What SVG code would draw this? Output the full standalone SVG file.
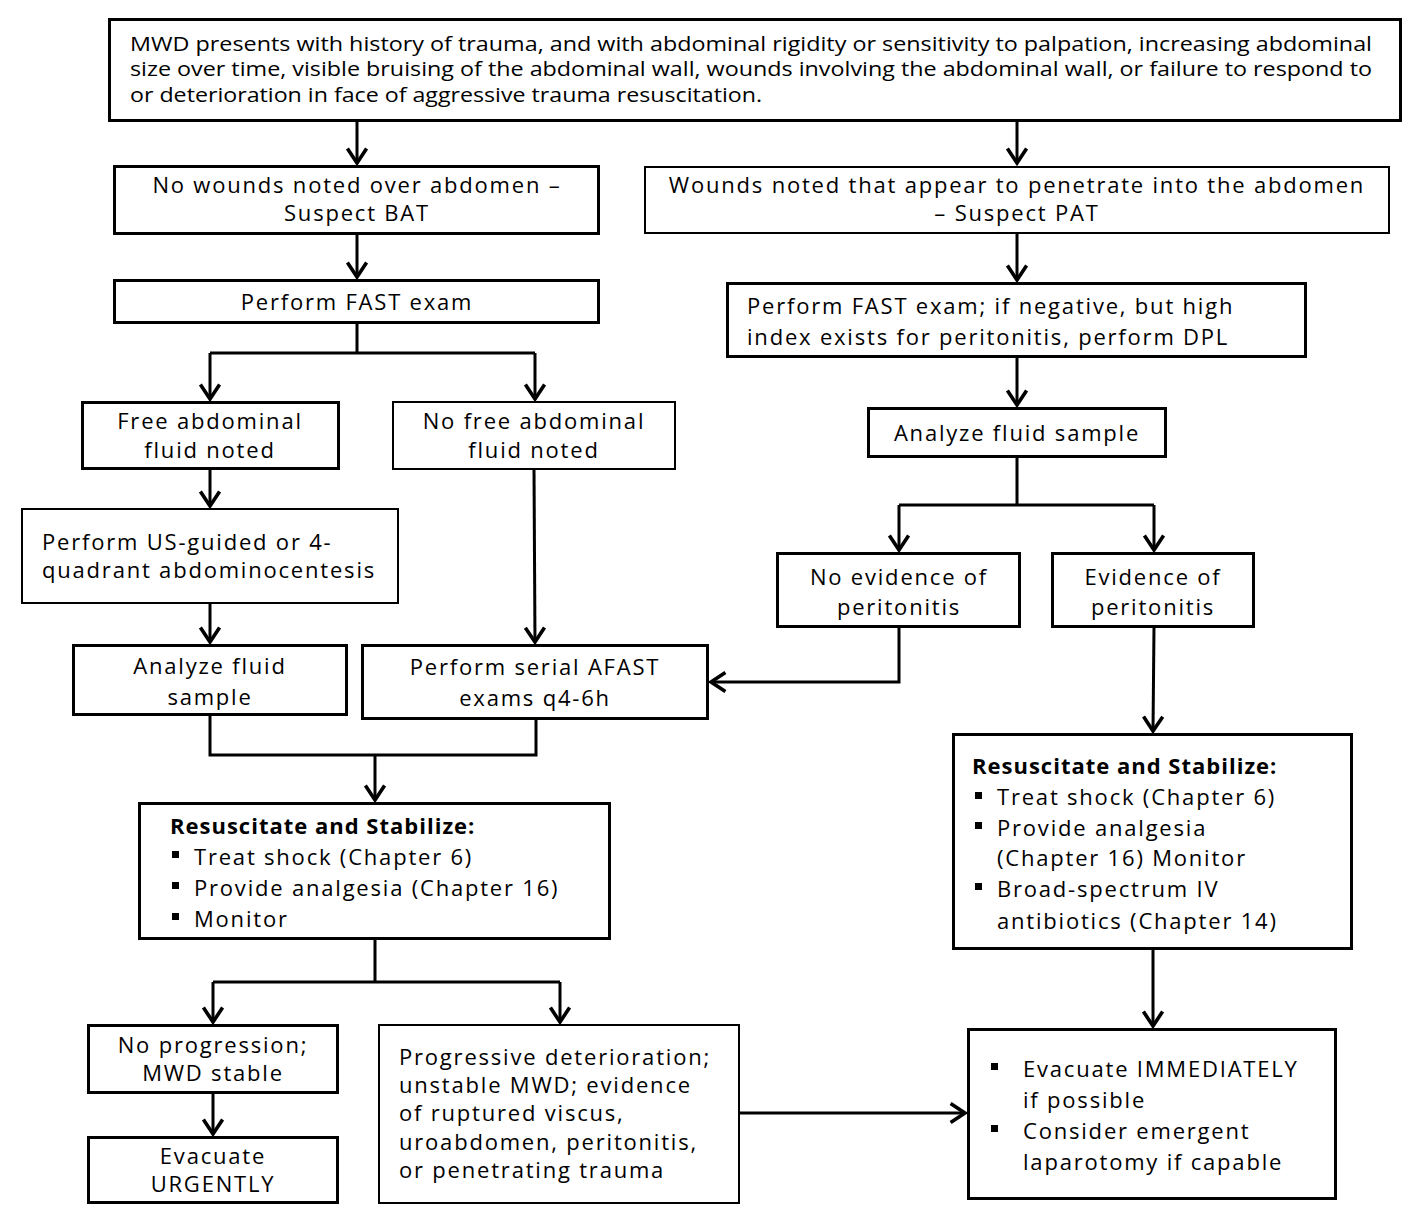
<svg xmlns="http://www.w3.org/2000/svg" width="1416" height="1222" viewBox="0 0 1416 1222">
<defs>
<marker id="arr" markerUnits="userSpaceOnUse" markerWidth="24" markerHeight="24" viewBox="-14 -10 16 20" refX="0" refY="0" orient="auto">
<path d="M-12,-8 L0,0 L-12,8" fill="none" stroke="#000" stroke-width="3"/>
</marker>
</defs>
<style>
.b{fill:#fff;stroke:#000;stroke-width:3}
.t{fill:#fff;stroke:#000;stroke-width:2}
text{font-family:"Open Sans","DejaVu Sans",sans-serif;font-size:22px;fill:#000;letter-spacing:1.8px}
.c{text-anchor:middle}
.h{font-weight:bold;letter-spacing:1px}
.top{font-size:20px;letter-spacing:0}
.ln{fill:none;stroke:#000;stroke-width:3}
.bul{fill:#000}
</style>
<rect width="1416" height="1222" fill="#fff"/>
<g id="connectors">
<path class="ln" d="M357,121 V163" marker-end="url(#arr)"/>
<path class="ln" d="M1017,121 V163" marker-end="url(#arr)"/>
<path class="ln" d="M357,233 V277" marker-end="url(#arr)"/>
<path class="ln" d="M357,323 V353 M210,353 H535"/>
<path class="ln" d="M210,353 V399" marker-end="url(#arr)"/>
<path class="ln" d="M535,353 V399" marker-end="url(#arr)"/>
<path class="ln" d="M210,469 V506" marker-end="url(#arr)"/>
<path class="ln" d="M210,603 V642" marker-end="url(#arr)"/>
<path class="ln" d="M534,469 L535,642" marker-end="url(#arr)"/>
<path class="ln" d="M210,715 V755 H536 V719"/>
<path class="ln" d="M375,755 V800" marker-end="url(#arr)"/>
<path class="ln" d="M375,939 V982 M213,982 H560"/>
<path class="ln" d="M213,982 V1022" marker-end="url(#arr)"/>
<path class="ln" d="M560,982 V1022" marker-end="url(#arr)"/>
<path class="ln" d="M213,1093 V1134" marker-end="url(#arr)"/>
<path class="ln" d="M739,1113 H965" marker-end="url(#arr)"/>
<path class="ln" d="M1017,233 V280" marker-end="url(#arr)"/>
<path class="ln" d="M1017,357 V405" marker-end="url(#arr)"/>
<path class="ln" d="M1017,457 V505 M899,505 H1154"/>
<path class="ln" d="M899,505 V550" marker-end="url(#arr)"/>
<path class="ln" d="M1154,505 V550" marker-end="url(#arr)"/>
<path class="ln" d="M899,627 V682 H711" marker-end="url(#arr)"/>
<path class="ln" d="M1154,627 L1153,731" marker-end="url(#arr)"/>
<path class="ln" d="M1153,949 V1026" marker-end="url(#arr)"/>
</g>
<g id="n-top">
<rect class="b" x="109.5" y="19.5" width="1291" height="101"/>
<text class="top" x="130" y="51" textLength="1242" lengthAdjust="spacingAndGlyphs">MWD presents with history of trauma, and with abdominal rigidity or sensitivity to palpation, increasing abdominal</text>
<text class="top" x="130" y="76" textLength="1242" lengthAdjust="spacingAndGlyphs">size over time, visible bruising of the abdominal wall, wounds involving the abdominal wall, or failure to respond to</text>
<text class="top" x="130" y="102" textLength="632" lengthAdjust="spacingAndGlyphs">or deterioration in face of aggressive trauma resuscitation.</text>
</g>
<g id="n-bat">
<rect class="b" x="114.5" y="166.5" width="484" height="67"/>
<text class="c" x="357" y="193">No wounds noted over abdomen –</text>
<text class="c" x="357" y="221">Suspect BAT</text>
</g>
<g id="n-pat">
<rect class="t" x="645" y="167" width="744" height="66"/>
<text class="c" x="1017" y="193">Wounds noted that appear to penetrate into the abdomen</text>
<text class="c" x="1017" y="221">– Suspect PAT</text>
</g>
<g id="n-fast1">
<rect class="b" x="114.5" y="280.5" width="484" height="42"/>
<text class="c" x="357" y="310">Perform FAST exam</text>
</g>
<g id="n-free">
<rect class="b" x="82.5" y="402.5" width="256" height="66"/>
<text class="c" x="210" y="429">Free abdominal</text>
<text class="c" x="210" y="458">fluid noted</text>
</g>
<g id="n-nofree">
<rect class="t" x="393" y="402" width="282" height="67"/>
<text class="c" x="534" y="429">No free abdominal</text>
<text class="c" x="534" y="458">fluid noted</text>
</g>
<g id="n-us">
<rect class="t" x="22" y="509" width="376" height="94"/>
<text x="42" y="550">Perform US-guided or 4-</text>
<text x="42" y="578">quadrant abdominocentesis</text>
</g>
<g id="n-analyze1">
<rect class="b" x="73.5" y="645.5" width="273" height="69"/>
<text class="c" x="210" y="674">Analyze fluid</text>
<text class="c" x="210" y="705">sample</text>
</g>
<g id="n-afast">
<rect class="b" x="362.5" y="645.5" width="345" height="73"/>
<text class="c" x="535" y="675">Perform serial AFAST</text>
<text class="c" x="535" y="706">exams q4-6h</text>
</g>
<g id="n-resus1">
<rect class="b" x="139.5" y="803.5" width="470" height="135"/>
<text class="h" x="170" y="834">Resuscitate and Stabilize:</text>
<rect class="bul" x="172" y="851" width="7" height="7"/>
<text x="194" y="865">Treat shock (Chapter 6)</text>
<rect class="bul" x="172" y="882" width="7" height="7"/>
<text x="194" y="896">Provide analgesia (Chapter 16)</text>
<rect class="bul" x="172" y="913" width="7" height="7"/>
<text x="194" y="927">Monitor</text>
</g>
<g id="n-stable">
<rect class="b" x="88.5" y="1025.5" width="249" height="67"/>
<text class="c" x="213" y="1053">No progression;</text>
<text class="c" x="213" y="1081">MWD stable</text>
</g>
<g id="n-urgent">
<rect class="b" x="88.5" y="1137.5" width="249" height="65"/>
<text class="c" x="213" y="1164">Evacuate</text>
<text class="c" x="213" y="1192">URGENTLY</text>
</g>
<g id="n-prog">
<rect class="t" x="379" y="1025" width="360" height="178"/>
<text x="399" y="1065">Progressive deterioration;</text>
<text x="399" y="1093">unstable MWD; evidence</text>
<text x="399" y="1121">of ruptured viscus,</text>
<text x="399" y="1150">uroabdomen, peritonitis,</text>
<text x="399" y="1178">or penetrating trauma</text>
</g>
<g id="n-fast2">
<rect class="b" x="727.5" y="283.5" width="578" height="73"/>
<text x="747" y="314">Perform FAST exam; if negative, but high</text>
<text x="747" y="345">index exists for peritonitis, perform DPL</text>
</g>
<g id="n-analyze2">
<rect class="b" x="868.5" y="408.5" width="297" height="48"/>
<text class="c" x="1017" y="441">Analyze fluid sample</text>
</g>
<g id="n-noperi">
<rect class="b" x="777.5" y="553.5" width="242" height="73"/>
<text class="c" x="899" y="585">No evidence of</text>
<text class="c" x="899" y="615">peritonitis</text>
</g>
<g id="n-peri">
<rect class="b" x="1052.5" y="553.5" width="201" height="73"/>
<text class="c" x="1153" y="585">Evidence of</text>
<text class="c" x="1153" y="615">peritonitis</text>
</g>
<g id="n-resus2">
<rect class="b" x="953.5" y="734.5" width="398" height="214"/>
<text class="h" x="972" y="774">Resuscitate and Stabilize:</text>
<rect class="bul" x="975" y="792" width="7" height="7"/>
<text x="997" y="805">Treat shock (Chapter 6)</text>
<rect class="bul" x="975" y="822" width="7" height="7"/>
<text x="997" y="836">Provide analgesia</text>
<text x="997" y="866">(Chapter 16) Monitor</text>
<rect class="bul" x="975" y="883" width="7" height="7"/>
<text x="997" y="897">Broad-spectrum IV</text>
<text x="997" y="929">antibiotics (Chapter 14)</text>
</g>
<g id="n-immed">
<rect class="b" x="968.5" y="1029.5" width="367" height="169"/>
<rect class="bul" x="991" y="1063" width="7" height="7"/>
<text x="1023" y="1077">Evacuate IMMEDIATELY</text>
<text x="1023" y="1108">if possible</text>
<rect class="bul" x="991" y="1125" width="7" height="7"/>
<text x="1023" y="1139">Consider emergent</text>
<text x="1023" y="1170">laparotomy if capable</text>
</g>
</svg>
